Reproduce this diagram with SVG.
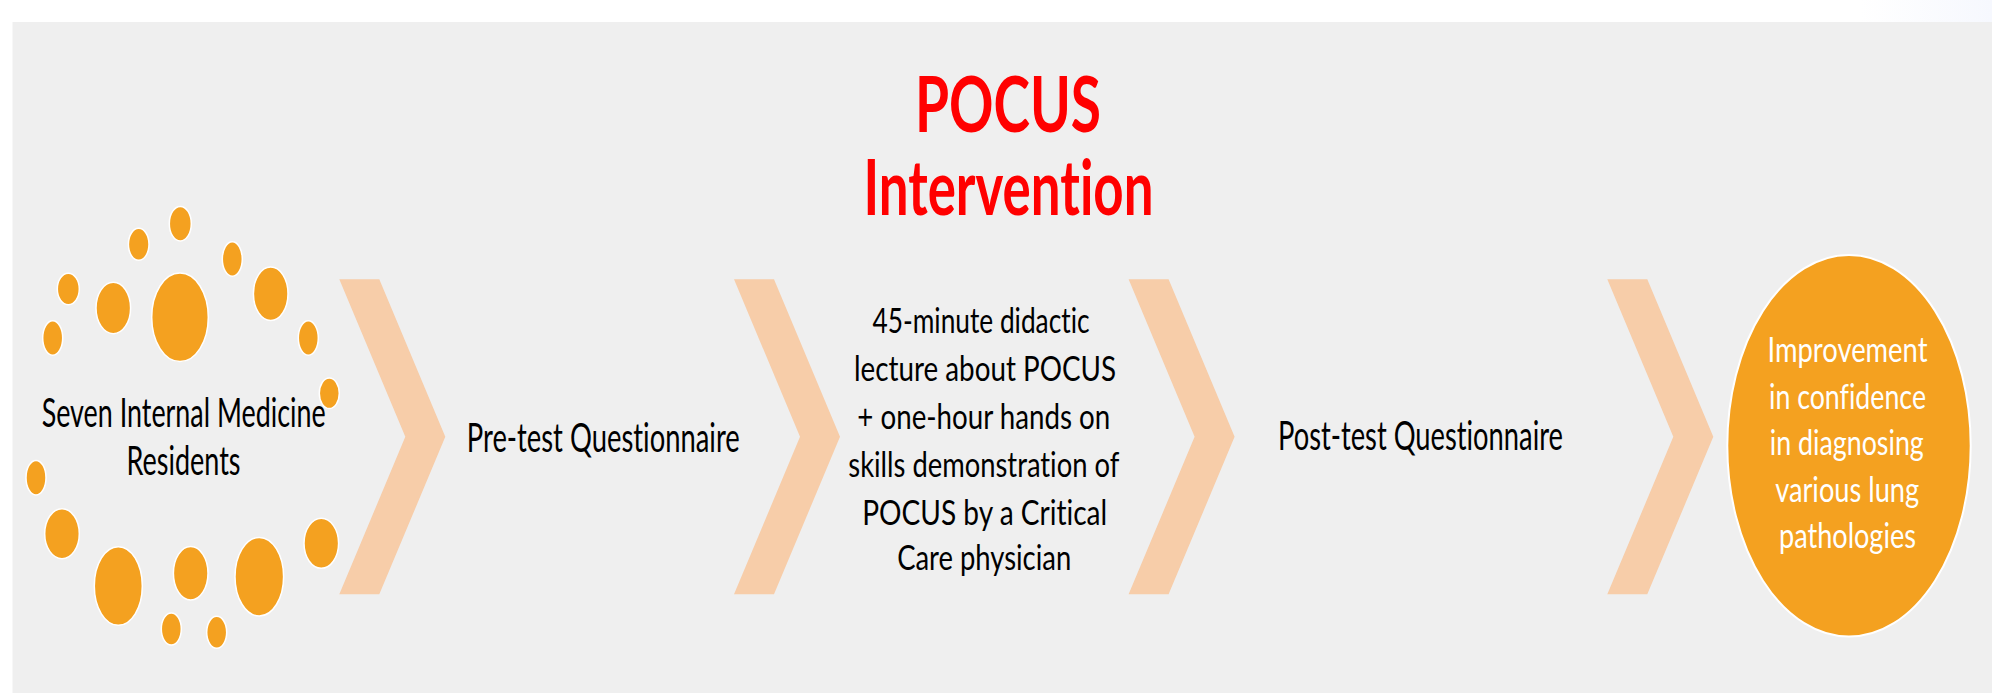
<svg xmlns="http://www.w3.org/2000/svg" width="1992" height="693" viewBox="0 0 1992 693">
  <style>
    text { font-variant-ligatures: none; }
    .dot { fill: #f4a120; stroke: #ffffff; stroke-width: 1.5; }
    .chev { fill: #f7cda9; }
    .lbl { font-family: Lato, "Noto Sans", "Liberation Sans", sans-serif; fill: #000000; text-anchor: middle; }
    .title { font-family: Lato, "Noto Sans", "Liberation Sans", sans-serif; font-weight: bold; fill: #ff0000; text-anchor: middle; font-size: 76px; }
    .out { font-family: Lato, "Noto Sans", "Liberation Sans", sans-serif; fill: #ffffff; text-anchor: middle; font-size: 34px; }
  </style>
  <defs>
    <linearGradient id="topTint" x1="0" y1="0" x2="1" y2="0">
      <stop offset="0" stop-color="#ffffff"/>
      <stop offset="1" stop-color="#f6f8fe"/>
    </linearGradient>
    <polygon id="chevron" points="0,0 40,0 106,157.5 40,315 0,315 66,157.5"/>
  </defs>

  <!-- page and panel -->
  <rect x="0" y="0" width="1992" height="693" fill="#ffffff"/>
  <rect x="1860" y="0" width="132" height="22" fill="url(#topTint)"/>
  <rect x="12.5" y="22" width="1979.5" height="671" fill="#efefef"/>

  <!-- heading -->
  <g id="title">
    <text class="title" x="1008" y="131.5" textLength="186" lengthAdjust="spacingAndGlyphs">POCUS</text>
    <text class="title" x="1008.5" y="214.7" textLength="290" lengthAdjust="spacingAndGlyphs">Intervention</text>
  </g>

  <!-- step 1: participants, framed by a ring of dots -->
  <g id="residents">
    <ellipse class="dot" cx="180.3" cy="223.7" rx="11" ry="17.3"/>
    <ellipse class="dot" cx="138.7" cy="244.3" rx="10.3" ry="16"/>
    <ellipse class="dot" cx="232.3" cy="259" rx="10" ry="17.3"/>
    <ellipse class="dot" cx="68.3" cy="289" rx="11" ry="15.7"/>
    <ellipse class="dot" cx="113.3" cy="308" rx="17.3" ry="25.7"/>
    <ellipse class="dot" cx="180" cy="317.3" rx="28.3" ry="44.3"/>
    <ellipse class="dot" cx="270.7" cy="293.7" rx="17.3" ry="26.7"/>
    <ellipse class="dot" cx="52.7" cy="338" rx="10" ry="17.3"/>
    <ellipse class="dot" cx="308.3" cy="338" rx="10" ry="17.3"/>
    <ellipse class="dot" cx="329.3" cy="393.3" rx="10" ry="15.3"/>
    <ellipse class="dot" cx="36" cy="477.7" rx="10" ry="17.3"/>
    <ellipse class="dot" cx="62" cy="533.7" rx="17.3" ry="25"/>
    <ellipse class="dot" cx="118.3" cy="586" rx="24" ry="39.3"/>
    <ellipse class="dot" cx="190.7" cy="573.3" rx="17.3" ry="26.7"/>
    <ellipse class="dot" cx="259.3" cy="576.7" rx="24.3" ry="39.3"/>
    <ellipse class="dot" cx="321.3" cy="543.3" rx="17.3" ry="25"/>
    <ellipse class="dot" cx="171.3" cy="629" rx="10" ry="16"/>
    <ellipse class="dot" cx="216.7" cy="632.3" rx="10" ry="16"/>
    <text class="lbl" font-size="40" x="183.7" y="427.3" textLength="284" lengthAdjust="spacingAndGlyphs">Seven Internal Medicine</text>
    <text class="lbl" font-size="40" x="183.5" y="475" textLength="114" lengthAdjust="spacingAndGlyphs">Residents</text>
  </g>

  <!-- step 2 -->
  <g id="pretest">
    <text class="lbl" font-size="41" x="603.3" y="451.7" textLength="273" lengthAdjust="spacingAndGlyphs">Pre-test Questionnaire</text>
  </g>

  <!-- step 3 -->
  <g id="lecture">
    <text class="lbl" font-size="35" x="981" y="332.5" textLength="217" lengthAdjust="spacingAndGlyphs">45-minute didactic</text>
    <text class="lbl" font-size="35" x="985" y="380.5" textLength="262" lengthAdjust="spacingAndGlyphs">lecture about POCUS</text>
    <text class="lbl" font-size="35" x="983.8" y="428.5" textLength="253" lengthAdjust="spacingAndGlyphs">+ one-hour hands on</text>
    <text class="lbl" font-size="35" x="983.8" y="476.7" textLength="271" lengthAdjust="spacingAndGlyphs">skills demonstration of</text>
    <text class="lbl" font-size="35" x="984.7" y="525" textLength="245" lengthAdjust="spacingAndGlyphs">POCUS by a Critical</text>
    <text class="lbl" font-size="35" x="984.2" y="570" textLength="174" lengthAdjust="spacingAndGlyphs">Care physician</text>
  </g>

  <!-- step 4 -->
  <g id="posttest">
    <text class="lbl" font-size="41" x="1420.5" y="450" textLength="285" lengthAdjust="spacingAndGlyphs">Post-test Questionnaire</text>
  </g>

  <!-- outcome -->
  <g id="outcome">
    <ellipse cx="1849" cy="445.8" rx="121.7" ry="190.8" fill="#f4a120" stroke="#ffffff" stroke-width="2"/>
    <text class="out" x="1847.5" y="362" textLength="160" lengthAdjust="spacingAndGlyphs">Improvement</text>
    <text class="out" x="1847.5" y="408.5" textLength="157" lengthAdjust="spacingAndGlyphs">in confidence</text>
    <text class="out" x="1846.8" y="455" textLength="154" lengthAdjust="spacingAndGlyphs">in diagnosing</text>
    <text class="out" x="1847.2" y="501.7" textLength="144" lengthAdjust="spacingAndGlyphs">various lung</text>
    <text class="out" x="1847.5" y="548.3" textLength="137" lengthAdjust="spacingAndGlyphs">pathologies</text>
  </g>

  <!-- chevron connectors between steps -->
  <g id="connectors">
    <use href="#chevron" class="chev" x="339.3" y="279.3"/>
    <use href="#chevron" class="chev" x="734" y="279.3"/>
    <use href="#chevron" class="chev" x="1128.6" y="279.3"/>
    <use href="#chevron" class="chev" x="1607.3" y="279.3"/>
  </g>
</svg>
